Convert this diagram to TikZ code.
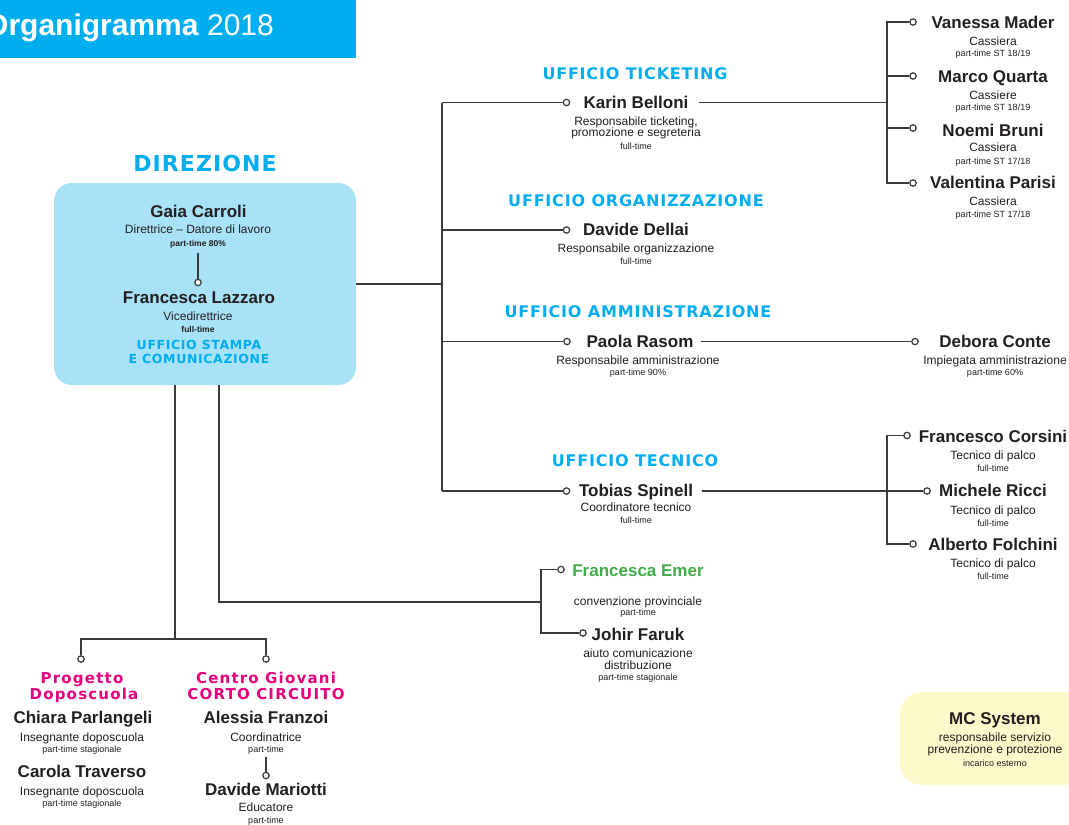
\documentclass[tikz,border=0pt]{standalone}
\usepackage{fontspec}
\setmainfont{Liberation Sans}
\newfontfamily\hdrfont{DejaVu Sans}[LetterSpace=5]
\newfontfamily\hdrfontW{DejaVu Sans}[LetterSpace=8]
\usetikzlibrary{calc}
\definecolor{cyanc}{HTML}{00AEEF}
\definecolor{boxc}{HTML}{A7E2F9}
\definecolor{magc}{HTML}{E6007E}
\definecolor{greenc}{HTML}{40AD48}
\definecolor{yelc}{HTML}{FDF9CB}
\definecolor{ink}{HTML}{231F20}
\definecolor{lc}{HTML}{3A3A3A}
\tikzset{
 ln/.style={draw=lc, line width=1.5pt},
 dot/.style={circle, draw=lc, fill=white, line width=1.2pt, inner sep=0pt, minimum size=6.4pt},
 txt/.style={inner sep=0pt, anchor=base, text=ink},
 nm/.style={txt, font=\bfseries\fontsize{17}{17}\selectfont},
 sb/.style={txt, font=\fontsize{12}{12}\selectfont},
 tn/.style={txt, font=\fontsize{9}{9}\selectfont},
 tnb/.style={txt, font=\bfseries\fontsize{8.5}{9}\selectfont},
 hd/.style={txt, text=cyanc, font=\hdrfont\bfseries\fontsize{16}{16}\selectfont},
 hds/.style={txt, text=cyanc, font=\hdrfont\bfseries\fontsize{12.5}{12.5}\selectfont},
 mg/.style={txt, text=magc, font=\hdrfontW\bfseries\fontsize{15}{15}\selectfont},
}
\begin{document}
\begin{tikzpicture}[x=1pt,y=-1pt]
\useasboundingbox (0,0) rectangle (1069,825);
\clip (0,0) rectangle (1069,825);
\fill[white] (0,0) rectangle (1069,825);
% title
\fill[cyanc] (0,0) rectangle (356,58);
\node[anchor=base west, inner sep=0pt, text=white, font=\fontsize{30}{30}\selectfont] (title) at (-15,35) {\textbf{Organigramma} 2018};
% direzione
\node[txt, text=cyanc, font=\hdrfont\bfseries\fontsize{22}{22}\selectfont] (dirh) at (205,171) {DIREZIONE};
\node[fill=boxc, rounded corners=18pt, minimum width=302pt, minimum height=202pt, inner sep=0pt] (dirbox) at (205,284) {};
\node[nm] (gaia) at (198.5,217) {Gaia Carroli};
\node[sb] (gaia1) at (198,233) {Direttrice – Datore di lavoro};
\node[tnb] (gaia2) at (198,246) {part-time 80\%};
\coordinate (gTop) at (198,253);
\node[dot] (cFL) at (198,282.5) {};
\draw[ln] (gTop) -- (cFL);
\node[nm] (fl) at (199,303.3) {Francesca Lazzaro};
\node[sb] (fl1) at (198,320) {Vicedirettrice};
\node[tnb] (fl2) at (198,332.3) {full-time};
\node[hds] (us1) at (199,349) {UFFICIO STAMPA};
\node[hds] (us2) at (199,363.3) {E COMUNICAZIONE};
% main bus
\coordinate (b1) at (442,102.5);
\coordinate (b2) at (442,230);
\coordinate (b3) at (442,341.5);
\coordinate (b4) at (442,491);
\draw[ln] (dirbox.east) -- (dirbox.east -| b1);
\draw[ln] (b1) -- (b4);
\node[dot] (cK) at (566.5,102.5) {};
\node[dot] (cDD) at (566.5,230) {};
\node[dot] (cPR) at (567,341.5) {};
\node[dot] (cTS) at (566.5,491) {};
\draw[ln] (b1) -- (cK);
\draw[ln] (b2) -- (cDD);
\draw[ln] (b3) -- (cPR);
\draw[ln] (b4) -- (cTS);
% ticketing
\node[hd] (h1) at (635,79) {UFFICIO TICKETING};
\node[nm] (kname) at (636,108.3) {Karin Belloni};
\node[sb] (k1) at (636,125) {Responsabile ticketing,};
\node[sb] (k2) at (636,136.7) {promozione e segreteria};
\node[tn] (k3) at (636,149) {full-time};
% cashiers
\coordinate (cb1) at (887,22);
\coordinate (cb2) at (887,76);
\coordinate (cb3) at (887,128);
\coordinate (cb4) at (887,183);
\node[dot] (cVM) at (913,22) {};
\node[dot] (cMQ) at (913,76) {};
\node[dot] (cNB) at (913,128) {};
\node[dot] (cVP) at (913,183) {};
\draw[ln] (cVM) -- (cb1) -- (cb4) -- (cVP);
\draw[ln] (cb2) -- (cMQ);
\draw[ln] (cb3) -- (cNB);
\draw[ln] ($(kname.east |- cK)+(10,0)$) -- (cb1 |- cK);
\node[nm] (vm) at (993,28.3) {Vanessa Mader};
\node[sb] (vm1) at (993,45) {Cassiera};
\node[tn] (vm2) at (993,56.7) {part-time ST 18/19};
\node[nm] (mq) at (993,82.7) {Marco Quarta};
\node[sb] (mq1) at (993,99.3) {Cassiere};
\node[tn] (mq2) at (993,110.7) {part-time ST 18/19};
\node[nm] (nb) at (993,136) {Noemi Bruni};
\node[sb] (nb1) at (993,151) {Cassiera};
\node[tn] (nb2) at (993,164) {part-time ST 17/18};
\node[nm] (vp) at (993,188.3) {Valentina Parisi};
\node[sb] (vp1) at (993,205) {Cassiera};
\node[tn] (vp2) at (993,217.3) {part-time ST 17/18};
% organizzazione
\node[hd] (h2) at (636,206.7) {UFFICIO ORGANIZZAZIONE};
\node[nm] (dd) at (636,235.7) {Davide Dellai};
\node[sb] (dd1) at (636,252.7) {Responsabile organizzazione};
\node[tn] (dd2) at (636,264) {full-time};
% amministrazione
\node[hd] (h3) at (638,317.3) {UFFICIO AMMINISTRAZIONE};
\node[nm] (pname) at (640,347.3) {Paola Rasom};
\node[sb] (pr1) at (638,364) {Responsabile amministrazione};
\node[tn] (pr2) at (638,375) {part-time 90\%};
\node[dot] (cDC) at (915,341.5) {};
\draw[ln] ($(pname.east |- cPR)+(7,0)$) -- (cDC);
\node[nm] (dc) at (995,347.3) {Debora Conte};
\node[sb] (dc1) at (995,364) {Impiegata amministrazione};
\node[tn] (dc2) at (995,375) {part-time 60\%};
% tecnico
\node[hd] (h4) at (635,466) {UFFICIO TECNICO};
\node[nm] (tname) at (636,496) {Tobias Spinell};
\node[sb] (ts1) at (636,511.7) {Coordinatore tecnico};
\node[tn] (ts2) at (636,523.3) {full-time};
\coordinate (tb1) at (887,435.5);
\coordinate (tb2) at (887,544);
\node[dot] (cFC) at (907,435.5) {};
\node[dot] (cMR) at (927,491) {};
\node[dot] (cAF) at (913,544) {};
\draw[ln] (cFC) -- (tb1) -- (tb2) -- (cAF);
\draw[ln] ($(tname.east |- cTS)+(9,0)$) -- (cMR);
\node[nm] (fc) at (993,442.7) {Francesco Corsini};
\node[sb] (fc1) at (993,459.3) {Tecnico di palco};
\node[tn] (fc2) at (993,471.7) {full-time};
\node[nm] (mr) at (993,496.7) {Michele Ricci};
\node[sb] (mr1) at (993,514) {Tecnico di palco};
\node[tn] (mr2) at (993,526) {full-time};
\node[nm] (af) at (993,550) {Alberto Folchini};
\node[sb] (af1) at (993,567.7) {Tecnico di palco};
\node[tn] (af2) at (993,579.3) {full-time};
% emer / faruk
\coordinate (eb) at (219,602);
\coordinate (ebT) at (541,569.5);
\coordinate (ebB) at (541,633);
\node[dot] (cEm) at (561,569.5) {};
\node[dot] (cJF) at (583,633) {};
\draw[ln] (dirbox.south -| eb) -- (eb) -- (eb -| ebT);
\draw[ln] (cEm) -- (ebT) -- (ebB) -- (cJF);
\node[nm, text=greenc] (em) at (638,576) {Francesca Emer};
\node[sb] (em1) at (638,605) {convenzione provinciale};
\node[tn] (em2) at (638,615.5) {part-time};
\node[nm] (jf) at (638,640.7) {Johir Faruk};
\node[sb] (jf1) at (638,657.3) {aiuto comunicazione};
\node[sb] (jf2) at (638,669.3) {distribuzione};
\node[tn] (jf3) at (638,680.7) {part-time stagionale};
% bottom left
\coordinate (bl) at (175,639);
\node[dot] (cPD) at (81,659) {};
\node[dot] (cCG) at (266,659) {};
\draw[ln] (dirbox.south -| bl) -- (bl);
\draw[ln] (cPD) -- (cPD |- bl) -- (cCG |- bl) -- (cCG);
\node[mg] (pd1) at (82,683.3) {Progetto};
\node[mg] (pd2) at (84,699) {Doposcuola};
\node[mg] (cg1) at (266,683.3) {Centro Giovani};
\node[mg] (cg2) at (266,699) {CORTO CIRCUITO};
\node[nm] (cp) at (83,723.3) {Chiara Parlangeli};
\node[sb] (cp1) at (82,741.7) {Insegnante doposcuola};
\node[tn] (cp2) at (82,752.7) {part-time stagionale};
\node[nm] (ct) at (82,777.7) {Carola Traverso};
\node[sb] (ct1) at (82,795) {Insegnante doposcuola};
\node[tn] (ct2) at (82,806.7) {part-time stagionale};
\node[nm] (alf) at (266,723.3) {Alessia Franzoi};
\node[sb] (alf1) at (266,741.7) {Coordinatrice};
\node[tn] (alf2) at (266,752.7) {part-time};
\coordinate (aTop) at (266,757);
\node[dot] (cDM) at (266,775.5) {};
\draw[ln] (aTop) -- (cDM);
\node[nm] (dm) at (266,795.7) {Davide Mariotti};
\node[sb] (dm1) at (266,811.7) {Educatore};
\node[tn] (dm2) at (266,823.5) {part-time};
% MC System
\fill[yelc, rounded corners=22pt] (900,692) rectangle (1110,785);
\node[nm] (mc) at (995,724.3) {MC System};
\node[sb] (mc1) at (995,741) {responsabile servizio};
\node[sb] (mc2) at (995,753.3) {prevenzione e protezione};
\node[tn] (mc3) at (995,766) {incarico esterno};
\end{tikzpicture}
\end{document}
